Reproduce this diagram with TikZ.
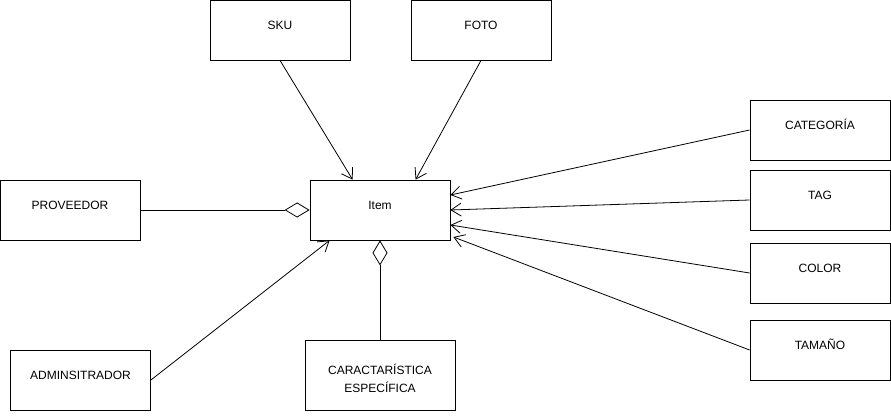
\documentclass[tikz,border=0pt]{standalone}
\usepackage{fontspec}
\setmainfont{Liberation Sans}
\usetikzlibrary{arrows.meta}

\begin{document}
\begin{tikzpicture}[x=1pt, y=-1pt, line width=0.8pt,
    ent/.style={draw, minimum width=140pt, minimum height=60pt, inner sep=0pt,
      font=\fontsize{12}{18}\selectfont, text height=8.6pt, text depth=10pt},
    dep/.style={-{Straight Barb[length=10pt,width=13pt]}},
    agg/.style={{Diamond[open,length=25pt,width=15pt]}-}]
          \useasboundingbox (0,0) rectangle (891,419);
          \node [ent] (item) at (380, 210) {Item};
          \node [ent] (sku) at (280, 30) {SKU};
          \node [ent] (foto) at (481, 30) {FOTO};
          \node [ent] (prov) at (70, 210) {PROVEEDOR};
          \node [ent] (admin) at (80.5, 380) {ADMINSITRADOR};
          \node [ent, minimum width=150pt, minimum height=70pt, align=center, text height=44pt] (carac) at (380, 375) {CARACTARÍSTICA\\ESPECÍFICA};
          \node [ent] (cat) at (820, 130) {CATEGORÍA};
          \node [ent] (tag) at (820, 200) {TAG};
          \node [ent] (color) at (820, 273) {COLOR};
          \node [ent] (tam) at (820, 350) {TAMAÑO};
          \draw [dep] (sku.south) -- ([xshift=43pt]item.north west);
          \draw [dep] (foto.south) -- ([xshift=106pt]item.north west);
          \draw [dep] (cat.west) -- ([yshift=15pt]item.east);
          \draw [dep] (tag.west) -- (item.east);
          \draw [dep] (color.west) -- ([yshift=-15pt]item.east);
          \draw [dep] (tam.west) -- ([xshift=3pt, yshift=-27pt]item.east);
          \draw [dep] (admin.east) -- ([xshift=20pt]item.south west);
          \draw [agg] (item.west) -- (prov.east);
          \draw [agg] (item.south) -- (carac.north);
        \end{tikzpicture}
\end{document}
